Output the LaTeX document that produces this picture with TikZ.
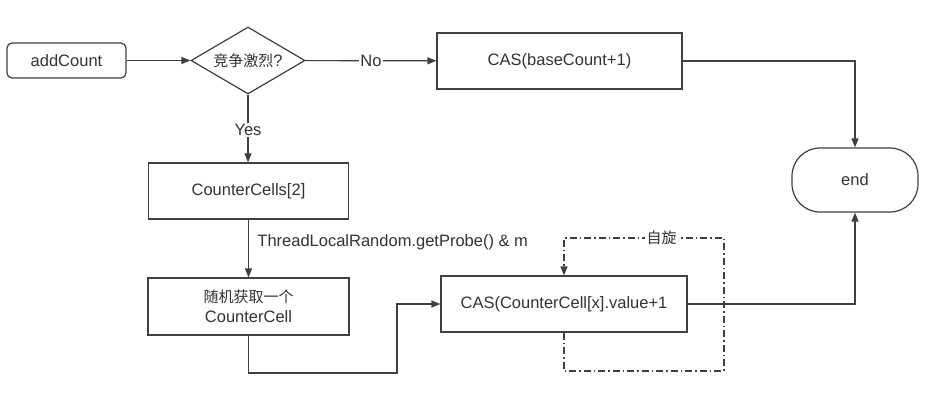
\documentclass[tikz,border=0pt]{standalone}
\usepackage{fontspec}
\setmainfont{Liberation Sans}
\newfontfamily\cjk{Noto Sans CJK SC}
\usetikzlibrary{arrows.meta,shapes.geometric}
\definecolor{lc}{HTML}{3F3F3F}
\definecolor{tc}{HTML}{333333}
\begin{document}
\begin{tikzpicture}[x=1pt,y=-1pt,
  line/.style={draw=lc,line width=1.2pt},
  txt/.style={text=tc,font=\fontsize{16.5}{20}\selectfont},
  box/.style={line,txt,rectangle,inner sep=0pt,align=center},
  arr/.style={line,-{Triangle[length=9pt,width=7pt]}},
  lbl/.style={txt,fill=white,inner sep=1.5pt},
  dd/.style={dash pattern=on 7pt off 3pt on 1.5pt off 3pt}
]
\useasboundingbox[fill=white] (0,0) rectangle (929,408);

\node[box,rounded corners=5pt,minimum width=119pt,minimum height=35pt] (add) at (66.5,60.5) {addCount};
\node[box,diamond,aspect=1.7,minimum width=114pt,minimum height=67pt] (dec) at (248,60.5) {{\cjk\fontsize{15}{18}\selectfont 竞争激烈}?};
\node[box,minimum width=245pt,minimum height=56pt] (cas1) at (559.5,61) {CAS(baseCount+1)};
\node[box,rounded corners=28pt,minimum width=126pt,minimum height=64pt] (endn) at (855,180) {end};
\node[box,minimum width=200pt,minimum height=56pt] (cells) at (248.5,191) {CounterCells[2]};
\node[box,minimum width=201pt,minimum height=57pt] (rand) at (248.5,306.5) {{\cjk\fontsize{15}{18}\selectfont 随机获取一个}\\CounterCell};
\node[box,minimum width=246pt,minimum height=56pt] (cas2) at (564,304) {CAS(CounterCell[x].value+1};

\coordinate (r1) at (397,373);
\coordinate (l1) at (724,371);
\coordinate (l2) at (724,238);

\draw[arr] (add) -- (dec);
\draw[arr] (dec) -- node[lbl]{No} (cas1);
\draw[arr] (dec.south) -- node[lbl,pos=0.52]{Yes} (dec.south |- cells.north);
\draw[arr] (cas1.east) -| (endn.north);
\draw[arr] (cells) -- node[txt,anchor=west,pos=0.4,xshift=5pt]{ThreadLocalRandom.getProbe() \& m} (rand);
\draw[arr] (rand.south) |- (r1) |- (cas2.west);
\draw[arr] (cas2.east) -| (endn.south);
\draw[arr,dd] (cas2.south) |- (l1) -- (l2) -- node[lbl,pos=0.39]{\cjk\fontsize{15}{18}\selectfont 自旋} (l2 -| cas2.north) -- (cas2.north);
\end{tikzpicture}
\end{document}
